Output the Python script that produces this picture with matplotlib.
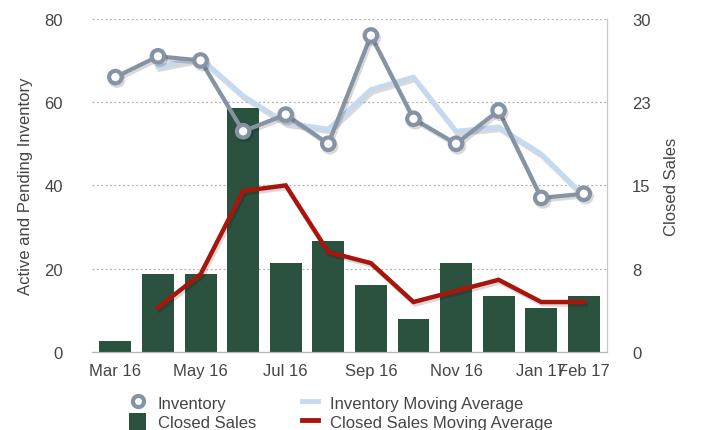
import numpy as np
import matplotlib.pyplot as plt
from matplotlib.lines import Line2D
from matplotlib.patches import Patch
import matplotlib.patheffects as pe

plt.rcParams['font.family'] = ['Liberation Sans', 'DejaVu Sans']

months = ['Mar 16', 'Apr 16', 'May 16', 'Jun 16', 'Jul 16', 'Aug 16',
          'Sep 16', 'Oct 16', 'Nov 16', 'Dec 16', 'Jan 17', 'Feb 17']
inventory = [66, 71, 70, 53, 57, 50, 76, 56, 50, 58, 37, 38]
inventory_ma = [None, 68.5, 70.5, 61.5, 55, 53.5, 63, 66, 53, 54, 47.5, 37.5]
closed_sales = [1, 7, 7, 22, 8, 10, 6, 3, 8, 5, 4, 5]
closed_sales_ma = [None, 4, 7, 14.5, 15, 9, 8, 4.5, 5.5, 6.5, 4.5, 4.5]

tick_idx = [0, 2, 4, 6, 8, 10, 11]
right_ticks = [0, 7.5, 15, 22.5, 30]
right_ticklabels = ['0', '8', '15', '23', '30']

c_inv = '#8693a4'
c_inv_ma = '#c6daef'
c_bar = '#2b523e'
c_red = '#a8150d'
c_text = '#454545'

fig = plt.figure(figsize=(7.02, 4.31), dpi=100)
ax2 = fig.add_axes([0.131, 0.181, 0.734, 0.773])
ax = ax2.twinx()
# left axis on the left, right axis on the right
ax.yaxis.tick_left()
ax.yaxis.set_label_position('left')
ax2.yaxis.tick_right()
ax2.yaxis.set_label_position('right')
ax.set_zorder(ax2.get_zorder() + 1)
ax.patch.set_visible(False)

x = np.arange(len(months))
shadow = [pe.SimpleLineShadow(offset=(1.2, -1.8), alpha=0.15, shadow_color='black'), pe.Normal()]

# bars and red line on right axis
ax2.bar(x, closed_sales, width=0.75, color=c_bar, zorder=2)
cs_ma = np.array(closed_sales_ma, dtype=float)
ax2.plot(x, cs_ma, color=c_red, lw=3.2, zorder=3, solid_joinstyle='miter',
         path_effects=shadow)
ax2.set_ylim(0, 30)
ax2.set_yticks(right_ticks)
ax2.set_yticklabels(right_ticklabels)
ax2.grid(axis='y', color='#b0b0b0', linestyle=(0, (1.5, 2)), lw=0.9, zorder=0)
ax2.set_axisbelow(True)
ax2.set_ylabel('Closed Sales', fontsize=12, color=c_text)
ax2.yaxis.set_label_coords(1.11, 0.5)

# inventory lines on left axis
inv_ma = np.array(inventory_ma, dtype=float)
ax.plot(x, inv_ma, color=c_inv_ma, lw=3.6, zorder=3, path_effects=shadow)
ax.plot(x, inventory, color=c_inv, lw=3, marker='o', ms=9, mfc='white',
        mec=c_inv, mew=3, zorder=4, path_effects=shadow)
ax.set_ylim(0, 80)
ax.set_yticks([0, 20, 40, 60, 80])
ax.set_ylabel('Active and Pending Inventory', fontsize=12, color=c_text)
ax.yaxis.set_label_coords(-0.115, 0.5)

ax2.set_xlim(-0.55, 11.55)
ax2.set_xticks([x[i] for i in tick_idx])
ax2.set_xticklabels([months[i] for i in tick_idx])

for a in (ax, ax2):
    a.tick_params(length=0, labelsize=12, labelcolor=c_text)
    for s in ('top', 'left'):
        a.spines[s].set_visible(False)
    a.spines['right'].set_color('#c8c8c8')
    a.spines['bottom'].set_color('#b4b4b4')
ax.tick_params(axis='y', pad=21)
ax2.tick_params(axis='y', pad=18)
ax2.tick_params(axis='x', pad=8)

handles = [
    Line2D([], [], marker='o', linestyle='none', ms=8, mfc='white', mec=c_inv, mew=3),
    Patch(facecolor=c_bar, edgecolor='none'),
    Line2D([], [], color=c_inv_ma, lw=3.5),
    Line2D([], [], color=c_red, lw=3.5),
]
labels = ['Inventory', 'Closed Sales', 'Inventory Moving Average', 'Closed Sales Moving Average']
leg = fig.legend(handles, labels, ncol=2, loc='upper left', bbox_to_anchor=(0.184, 0.083),
                 frameon=False, fontsize=12, handlelength=1.0, handleheight=1.2,
                 handletextpad=0.7, labelspacing=0.1, columnspacing=2.75,
                 borderpad=0, borderaxespad=0)
for t in leg.get_texts():
    t.set_color(c_text)

fig.savefig('out.png', dpi=100)
